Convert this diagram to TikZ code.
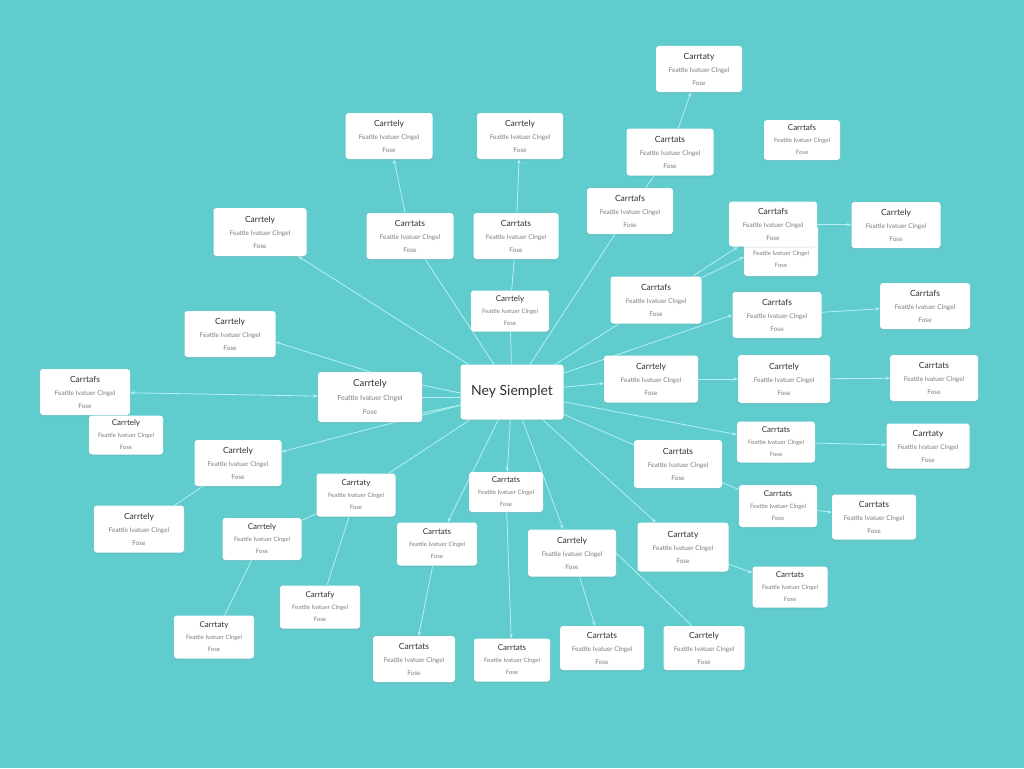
\documentclass[tikz,border=0pt]{standalone}
\usepackage{fontspec}
\setmainfont{Lato}
\usetikzlibrary{arrows.meta,shadows,calc}
\definecolor{bgc}{RGB}{96,204,206}
\definecolor{lnc}{RGB}{182,240,242}
\definecolor{ttc}{RGB}{48,48,48}
\definecolor{stc}{RGB}{125,125,125}
\pgfdeclarelayer{back}
\pgfdeclarelayer{lines}
\pgfsetlayers{back,lines,main}
\tikzset{
  cbox/.style={draw=none, fill=white, rounded corners=3pt, align=center, inner sep=0pt,
    drop shadow={opacity=0.12, shadow xshift=0pt, shadow yshift=-1.5pt}},
  lnk/.style={draw=lnc, line width=0.8pt},
  arr/.style={lnk, -{Stealth[length=4.5pt,width=3.5pt]}},
  barr/.style={lnk, {Stealth[length=4.5pt,width=3.5pt]}-{Stealth[length=4.5pt,width=3.5pt]}},
}
\newcommand\cb[6]{\node[cbox, minimum width=#4pt, minimum height=#5pt, font=\fontsize{6.5}{13}\selectfont] (#1) at (#2,#3)
  {{\fontsize{8.5}{13}\selectfont\color{ttc}#6}\\{\color{stc}Feattle Ivatuer Clngel}\\{\color{stc}Fose}};}
\newcommand\cs[6]{\node[cbox, minimum width=#4pt, minimum height=#5pt, font=\fontsize{6}{12}\selectfont] (#1) at (#2,#3)
  {{\fontsize{8}{12}\selectfont\color{ttc}#6}\\{\color{stc}Feattle Ivatuer Clngel}\\{\color{stc}Fose}};}
\begin{document}
\begin{tikzpicture}[x=1pt, y=-1pt]
\begin{pgfonlayer}{back}
\fill[bgc] (0,0) rectangle (1024,768);
\end{pgfonlayer}
\useasboundingbox (0,0) rectangle (1024,768);

\node[cbox, minimum width=103pt, minimum height=55pt, font=\fontsize{14}{16}\selectfont, text=ttc] (c) at (512,392) {Ney Siemplet};

\cb{n1}{699}{69}{86}{46}{Carrtaty}
\cb{n2}{389}{136}{87}{46}{Carrtely}
\cb{n3}{520}{136}{86}{46}{Carrtely}
\cs{n4}{802}{140}{76}{40}{Carrtafs}
\cb{n5}{670}{152}{87}{47}{Carrtats}
\cb{n6}{630}{211}{86}{46}{Carrtafs}
\cb{n7}{260}{232}{93}{48}{Carrtely}
\cb{n8}{410}{236}{87}{46}{Carrtats}
\cb{n9}{516}{236}{85}{46}{Carrtats}
\node[cbox, minimum width=74pt, minimum height=50pt, font=\fontsize{6}{12}\selectfont] (n11) at (781,251)
  {{\fontsize{8}{12}\selectfont\color{ttc}Carrtafs}\\[3pt]{\color{stc}Feattle Ivatuer Clngel}\\{\color{stc}Fose}};
\cb{n10}{773}{224}{88}{45}{Carrtafs}
\cb{n12}{896}{225}{89}{46}{Carrtely}
\cb{n13}{656}{300}{91}{47}{Carrtafs}
\cs{n14}{510}{311}{78}{41}{Carrtely}
\cb{n15}{230}{334}{91}{46}{Carrtely}
\cb{n16}{777}{315}{89}{46}{Carrtafs}
\cb{n17}{925}{306}{90}{46}{Carrtafs}
\cb{n18}{85}{392}{90}{46}{Carrtafs}
\node[cbox, minimum width=104pt, minimum height=50pt, font=\fontsize{7}{14}\selectfont] (n19) at (370,397)
  {{\fontsize{9.5}{14}\selectfont\color{ttc}Carrtely}\\{\color{stc}Feattle Ivatuer Clngel}\\{\color{stc}Fose}};
\cs{n20}{126}{435}{74}{39}{Carrtely}
\cb{n21}{651}{379}{94}{47}{Carrtely}
\cb{n22}{784}{379}{92}{48}{Carrtely}
\cb{n23}{934}{378}{88}{46}{Carrtats}
\cb{n24}{238}{463}{87}{46}{Carrtely}
\cs{n25}{776}{442}{78}{41}{Carrtats}
\cb{n26}{928}{446}{83}{45}{Carrtaty}
\cb{n27}{678}{464}{88}{48}{Carrtats}
\cs{n28}{356}{495}{79}{43}{Carrtaty}
\cs{n29}{506}{492}{74}{40}{Carrtats}
\cb{n30}{139}{529}{90}{47}{Carrtely}
\cs{n31}{262}{539}{79}{42}{Carrtely}
\cs{n32}{778}{506}{78}{42}{Carrtats}
\cb{n33}{874}{517}{84}{45}{Carrtats}
\cs{n34}{437}{544}{80}{43}{Carrtats}
\cb{n35}{572}{553}{88}{47}{Carrtely}
\cb{n36}{683}{547}{91}{49}{Carrtaty}
\cs{n37}{790}{587}{75}{41}{Carrtats}
\cs{n38}{320}{607}{80}{43}{Carrtafy}
\cs{n39}{214}{637}{80}{43}{Carrtaty}
\cb{n40}{414}{659}{82}{46}{Carrtats}
\cs{n41}{512}{660}{76}{43}{Carrtats}
\cb{n42}{602}{648}{84}{44}{Carrtats}
\cb{n43}{704}{648}{81}{44}{Carrtely}

\begin{pgfonlayer}{lines}
\draw[arr] (c) -- (n7);
\draw[lnk] (c) -- (n8);
\draw[lnk] (c) -- (n14);
\draw[lnk] (n14) -- (n9);
\draw[arr] (n9) -- (n3);
\draw[arr] (n8) -- (n2);
\draw[lnk] (c) -- (n6);
\draw[lnk] (n6) -- (n5);
\draw[arr] (n5) -- (n1);
\draw[lnk] (c) -- (n13);
\draw[arr] (n13) -- (n10);
\draw[arr] (n13) -- ($(n11.west)+(0,6)$);
\draw[arr] (n10) -- (n12);
\draw[arr] (c.20) -- (n16.west);
\draw[arr] (n16) -- (n17);
\draw[arr] (c) -- (n21);
\draw[arr] (n21) -- (n22);
\draw[arr] (n22) -- (n23);
\draw[arr] (c) -- (n25);
\draw[arr] (n25) -- (n26);
\draw[lnk] (c) -- (n27);
\draw[lnk] (n27) -- (n32);
\draw[arr] (n32) -- (n33);
\draw[arr] (c) -- (n36);
\draw[arr] (n36) -- (n37);
\draw[arr] (c) -- (n35);
\draw[arr] (n35) -- (n42);
\draw[lnk] (n35.east) -- ($(n43.north)+(-12,0)$);
\draw[arr] (c) -- (n29);
\draw[arr] (n29) -- (n41);
\draw[arr] (c) -- (n34);
\draw[arr] (n34) -- (n40);
\draw[lnk] (c) -- (n28);
\draw[lnk] (n28) -- (n31);
\draw[lnk] (n28) -- (n38);
\draw[lnk] (n31) -- (n39);
\draw[arr] (c) -- (n24);
\draw[lnk] (n24) -- (n30);
\draw[arr] (n19.north) -- ($(n15.east)+(0,8)$);
\draw[barr] (n18) -- (n19);
\draw[lnk] ($(n19.east)+(0,-12)$) -- ($(c.west)+(0,1)$);
\draw[lnk] (n19.east) -- ($(c.west)+(0,5)$);
\draw[lnk] ($(n19.east)+(0,16)$) -- ($(c.west)+(0,13)$);
\end{pgfonlayer}
\end{tikzpicture}
\end{document}
